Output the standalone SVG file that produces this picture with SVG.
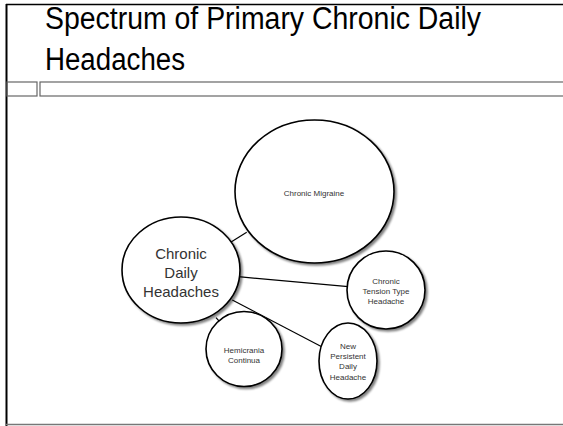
<svg xmlns="http://www.w3.org/2000/svg" width="563" height="426" viewBox="0 0 563 426">
<defs>
<filter id="sh" x="-20%" y="-20%" width="140%" height="140%">
<feGaussianBlur in="SourceAlpha" stdDeviation="1.2"/>
<feOffset dx="1.5" dy="1.5" result="b"/>
<feComponentTransfer><feFuncA type="linear" slope="0.5"/></feComponentTransfer>
<feMerge><feMergeNode/><feMergeNode in="SourceGraphic"/></feMerge>
</filter>
</defs>
<style>
.node{fill:#fff;stroke:#000;stroke-width:1.6;filter:url(#sh)}
.t{font-family:"Liberation Sans",Arial,sans-serif;text-anchor:middle;fill:#333}
.s{font-size:8px}
.edge{stroke:#000;stroke-width:1.2;fill:none}
.title{font-family:"Liberation Sans",Arial,sans-serif;font-size:31px;fill:#000}
</style>
<rect width="563" height="426" fill="#fff"/>
<g id="frame">
<line x1="6" y1="4.5" x2="563" y2="4.5" stroke="#000" stroke-width="1.5"/>
<line x1="6.5" y1="4" x2="6.5" y2="426" stroke="#000" stroke-width="2"/>
<line x1="6" y1="424.5" x2="563" y2="424.5" stroke="#777" stroke-width="1.5"/>
<rect x="7" y="82" width="30" height="14" fill="none" stroke="#666" stroke-width="1.2"/>
<rect x="40" y="82" width="530" height="14" fill="none" stroke="#666" stroke-width="1.2"/>
</g>
<g id="title">
<text class="title" x="45" y="29" textLength="436" lengthAdjust="spacingAndGlyphs">Spectrum of Primary Chronic Daily</text>
<text class="title" x="45" y="70" textLength="140" lengthAdjust="spacingAndGlyphs">Headaches</text>
</g>
<g id="connectors">
<line class="edge" x1="230.7" y1="242.3" x2="246.7" y2="232.3"/>
<line class="edge" x1="238.3" y1="276.7" x2="348.3" y2="286.7"/>
<line class="edge" x1="216" y1="317.7" x2="221.7" y2="324"/>
<line class="edge" x1="232.3" y1="300" x2="321.7" y2="346.7"/>
</g>
<g id="chronic-migraine">
<ellipse class="node" cx="314.5" cy="191.5" rx="79.5" ry="71.5"/>
<text class="t s" x="314" y="196">Chronic Migraine</text>
</g>
<g id="cdh">
<ellipse class="node" cx="181" cy="270" rx="59" ry="53"/>
<text class="t" font-size="15" fill="#111" x="181" y="259">Chronic</text>
<text class="t" font-size="15" fill="#111" x="181" y="278">Daily</text>
<text class="t" font-size="15" fill="#111" x="181" y="297">Headaches</text>
</g>
<g id="ctth">
<ellipse class="node" cx="386" cy="290" rx="39" ry="39"/>
<text class="t s" x="386" y="284">Chronic</text>
<text class="t s" x="386" y="294">Tension Type</text>
<text class="t s" x="386" y="304">Headache</text>
</g>
<g id="hemicrania">
<ellipse class="node" cx="244" cy="349" rx="38" ry="37.5"/>
<text class="t s" x="244" y="352.5">Hemicrania</text>
<text class="t s" x="244" y="362.5">Continua</text>
</g>
<g id="ndph">
<ellipse class="node" cx="348" cy="361" rx="29" ry="38"/>
<text class="t s" x="348" y="348.5">New</text>
<text class="t s" x="348" y="359">Persistent</text>
<text class="t s" x="348" y="369.3">Daily</text>
<text class="t s" x="348" y="379.5">Headache</text>
</g>
</svg>
